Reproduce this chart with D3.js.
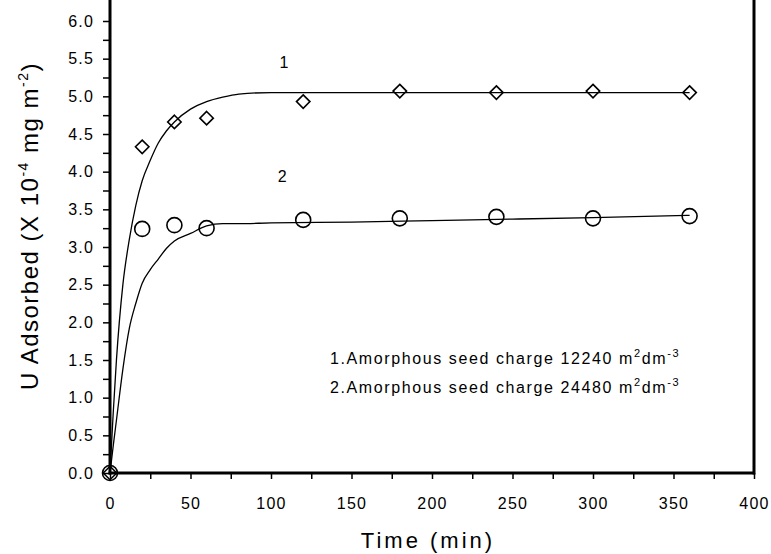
<!DOCTYPE html>
<html><head><meta charset="utf-8">
<script src="https://cdn.jsdelivr.net/npm/d3@7"></script>
<style>
body{margin:0;background:#fff;}
svg{display:block;font-family:"Liberation Sans",Arial,sans-serif;}
</style></head>
<body>
<svg id="chart" width="771" height="554"></svg>
<script>
// Measured data
const times = [0, 20, 40, 60, 120, 180, 240, 300, 360];
const series1 = [0, 4.33, 4.66, 4.71, 4.93, 5.07, 5.05, 5.07, 5.05];
const series2 = [0, 3.24, 3.29, 3.25, 3.36, 3.38, 3.40, 3.38, 3.41];
// Fitted curves
const fitTimes = [0, 2, 4, 8, 12, 16, 20, 25, 30, 35, 40, 50, 60, 70, 80, 100, 150, 200, 250, 300, 360];
const fit1 = [0, 0.8, 1.5, 2.5, 3.1, 3.55, 3.88, 4.15, 4.38, 4.54, 4.66, 4.83, 4.93, 4.99, 5.03, 5.05, 5.05, 5.05, 5.05, 5.05, 5.05];
const fit2 = [0, 0.36, 0.70, 1.38, 1.92, 2.25, 2.52, 2.70, 2.84, 2.98, 3.08, 3.18, 3.28, 3.31, 3.31, 3.32, 3.33, 3.35, 3.37, 3.39, 3.42];
const xTicks = [0, 50, 100, 150, 200, 250, 300, 350, 400];
const yTicks = [0, 0.5, 1, 1.5, 2, 2.5, 3, 3.5, 4, 4.5, 5, 5.5, 6];
const legendLines = [
  {n: "1.", text: "Amorphous seed charge 12240 m", sup1: "2", mid: "dm", sup2: "-3"},
  {n: "2.", text: "Amorphous seed charge 24480 m", sup1: "2", mid: "dm", sup2: "-3"}
];

(function () {
const svg = d3.select("#chart");
const mL = 110, mR = 754, mT = 21, mB = 473;
const x = d3.scaleLinear().domain([0, 400]).range([mL, mR]);
const y = d3.scaleLinear().domain([0, 6]).range([mB, mT]);

const xMinor = d3.range(0, 401, 25);
const yMinor = d3.range(0, 6.01, 0.25);

const xAxis = d3.axisBottom(x).tickValues(xMinor).tickSize(6).tickPadding(19).tickFormat(d => xTicks.includes(d) ? d : "");
const yAxis = d3.axisLeft(y).tickValues(yMinor).tickSize(7).tickPadding(9)
  .tickFormat(d => yTicks.some(v => Math.abs(v - d) < 1e-6) ? d.toFixed(1) : "");

const gx = svg.append("g").attr("transform", `translate(0,${mB})`).call(xAxis);
gx.select(".domain").remove();
gx.selectAll(".tick line").attr("stroke", "#000").attr("stroke-width", 1.5);
gx.selectAll(".tick text").attr("font-size", 16).attr("letter-spacing", 1.2).attr("dy", "0.71em").attr("fill", "#000");

const gy = svg.append("g").attr("transform", `translate(${mL},0)`).call(yAxis);
gy.select(".domain").remove();
gy.selectAll(".tick line").attr("stroke", "#000").attr("stroke-width", 1.5);
gy.selectAll(".tick text").attr("font-size", 16).attr("letter-spacing", 1.2).attr("fill", "#000");

svg.append("line").attr("x1", mL).attr("x2", mL).attr("y1", 0).attr("y2", mB + 1.5)
  .attr("stroke", "#000").attr("stroke-width", 3);
svg.append("line").attr("x1", mL - 1.5).attr("x2", mR).attr("y1", mB).attr("y2", mB)
  .attr("stroke", "#000").attr("stroke-width", 3);
svg.append("line").attr("x1", mR).attr("x2", mR).attr("y1", 0).attr("y2", mB + 1.5)
  .attr("stroke", "#000").attr("stroke-width", 3);

const line = d3.line().curve(d3.curveMonotoneX);
[fit1, fit2].forEach(f => {
  svg.append("path")
    .attr("d", line(fitTimes.map((t, i) => [x(t), y(f[i])])))
    .attr("fill", "none").attr("stroke", "#000").attr("stroke-width", 1.3);
});

const diamond = d3.symbol().type(d3.symbolDiamond2).size(115);
svg.append("g").selectAll("path").data(times.map((t, i) => [t, series1[i]])).join("path")
  .attr("transform", d => `translate(${x(d[0])},${y(d[1])})`)
  .attr("d", diamond).attr("fill", "none").attr("stroke", "#000").attr("stroke-width", 1.6);
svg.append("g").selectAll("circle").data(times.map((t, i) => [t, series2[i]])).join("circle")
  .attr("cx", d => x(d[0])).attr("cy", d => y(d[1])).attr("r", 7.5)
  .attr("fill", "none").attr("stroke", "#000").attr("stroke-width", 1.6);

svg.append("text").attr("x", x(108)).attr("y", y(5.5) + 9).attr("font-size", 16).attr("text-anchor", "middle").text("1");
svg.append("text").attr("x", x(107)).attr("y", y(4.0) + 10).attr("font-size", 16).attr("text-anchor", "middle").text("2");

legendLines.forEach((l, i) => {
  const t = svg.append("text").attr("x", 330).attr("y", 364 + i * 29)
    .attr("font-size", 16).attr("letter-spacing", 1.6).attr("fill", "#000");
  t.append("tspan").text(l.n + l.text);
  t.append("tspan").attr("font-size", 11).attr("dy", -7).text(l.sup1);
  t.append("tspan").attr("dy", 7).text(l.mid);
  t.append("tspan").attr("font-size", 11).attr("dy", -7).text(l.sup2);
});

svg.append("text").attr("x", (mL + mR) / 2 - 4).attr("y", 548).attr("text-anchor", "middle")
  .attr("font-size", 22).attr("letter-spacing", 3).text("Time (min)");

const yt = svg.append("text").attr("transform", `translate(38,226) rotate(-90)`).attr("text-anchor", "middle")
  .attr("font-size", 24).attr("letter-spacing", 1.5);
yt.append("tspan").text("U Adsorbed (X 10");
yt.append("tspan").attr("font-size", 14).attr("dy", -10).text("-4");
yt.append("tspan").attr("dy", 10).text(" mg m");
yt.append("tspan").attr("font-size", 14).attr("dy", -10).text("-2");
yt.append("tspan").attr("dy", 10).text(")");
})();
</script>
</body></html>
